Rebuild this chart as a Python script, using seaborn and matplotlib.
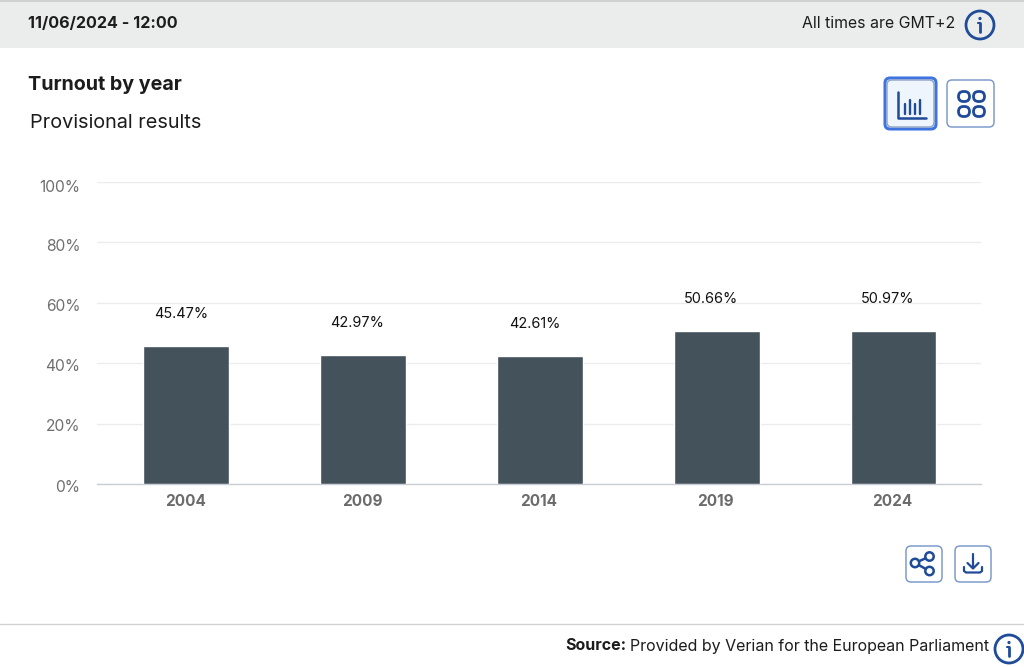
import matplotlib
matplotlib.use("Agg")
import matplotlib.pyplot as plt
from matplotlib.patches import Rectangle, FancyBboxPatch, Circle
from matplotlib.transforms import ScaledTranslation
import pandas as pd
import seaborn as sns

years = ["2004", "2009", "2014", "2019", "2024"]
# bar heights as drawn in the picture, they sit a little under the printed figures
bar_heights = [45.6, 42.8, 42.5, 50.7, 50.7]
turnout_labels = ["45.47%", "42.97%", "42.61%", "50.66%", "50.97%"]
y_ticks = [0, 20, 40, 60, 80, 100]

BLUE = "#1f4b99"
BORDER = "#7f9bcb"
BAR = "#44525c"
TEXT = "#1c1c1c"

sns.set_theme(style="white")
plt.rcParams["font.family"] = ["Inter", "DejaVu Sans"]

fig = plt.figure(figsize=(10.24, 6.67), dpi=100, facecolor="white")

# overlay in pixel coordinates for the page furniture
bg = fig.add_axes([0, 0, 1, 1])
bg.set_xlim(0, 1024)
bg.set_ylim(667, 0)
bg.axis("off")

# chart area, 97-981 px across and 182-484 px down
ax = fig.add_axes([97 / 1024, 1 - 484 / 667, 884 / 1024, 302 / 667])
ax.patch.set_alpha(0)
df = pd.DataFrame({"year": years, "turnout": bar_heights})
sns.barplot(data=df, x="year", y="turnout", color=BAR, saturation=1, width=0.486, ax=ax, zorder=3)

ax.set_ylim(0, 100)
ax.set_xlim(-0.505, 4.495)
ax.set_yticks(y_ticks)
ax.set_yticklabels([f"{t}%" for t in y_ticks], fontsize=11.2, color="#6f6f6f")
ax.set_xlabel("")
ax.set_ylabel("")
ax.tick_params(axis="both", length=0)
ax.tick_params(axis="y", pad=12)
ax.tick_params(axis="x", pad=7)
for lab in ax.get_xticklabels():
    lab.set_fontsize(11)
    lab.set_fontweight("bold")
    lab.set_color("#6b6b6b")
    lab.set_transform(lab.get_transform() + ScaledTranslation(-1 / 100, 0, fig.dpi_scale_trans))
# the tick labels are not quite level with the grid lines, the top one least of all
for lab, nudge in zip(ax.get_yticklabels(), [1.5, 1.5, 1.5, 2.5, 2.5, 4.5]):
    lab.set_transform(lab.get_transform() + ScaledTranslation(0, -nudge / 100, fig.dpi_scale_trans))
ax.grid(axis="y", color="#ececec", linewidth=1, zorder=0)
sns.despine(ax=ax, left=True, top=True, right=True)
ax.spines["bottom"].set_color("#c9ced6")
ax.spines["bottom"].set_linewidth(1)

for i, (h, label) in enumerate(zip(bar_heights, turnout_labels)):
    ax.annotate(label, (i, h), xytext=(-4, 23), textcoords="offset points",
                ha="center", va="center", fontsize=10.4, color="#111111")

# top band
bg.add_patch(Rectangle((0, 0), 1024, 48, color="#ebeded", lw=0))
bg.add_patch(Rectangle((0, 0), 1024, 1.5, color="#cfd1d1", lw=0))
bg.text(28, 24, "11/06/2024 - 12:00", fontsize=11.6, fontweight="bold", color=TEXT, va="center")
bg.text(955, 24, "All times are GMT+2", fontsize=11.4, color=TEXT, va="center", ha="right")

bg.text(28, 85, "Turnout by year", fontsize=14.2, fontweight="bold", color=TEXT, va="center")
bg.text(30, 123, "Provisional results", fontsize=14.3, color=TEXT, va="center")


def info_icon(cx, cy):
    bg.add_patch(Circle((cx, cy), 14, fill=False, ec=BLUE, lw=2))
    bg.add_patch(Circle((cx, cy - 6.5), 1.6, color=BLUE, lw=0))
    bg.plot([cx, cx], [cy - 2, cy + 7], color=BLUE, lw=2, solid_capstyle="round")
    bg.plot([cx - 2.5, cx], [cy - 2, cy - 2], color=BLUE, lw=1.5, solid_capstyle="round")


def button(x0, y0, x1, y1, face="white", edge=BORDER, lw=1.1):
    bg.add_patch(FancyBboxPatch((x0 + 5, y0 + 5), x1 - x0 - 10, y1 - y0 - 10,
                                boxstyle="round,pad=5,rounding_size=5", fc=face, ec=edge, lw=lw))


info_icon(980, 25)
info_icon(1009, 649)

# chart view button (active)
button(885, 78, 936, 129, edge="#3f74e0", lw=2.2)
button(887, 80, 934, 127, face="#eef5fd", edge="#8ea3c4", lw=1)
bg.plot([898, 898, 926], [92, 118, 118], color=BLUE, lw=1.8, solid_capstyle="round", solid_joinstyle="round")
for px, top in zip([905, 910, 915, 920], [104, 100, 104, 100]):
    bg.plot([px, px], [top, 114], color=BLUE, lw=1.7, solid_capstyle="round")

# grid view button
button(947, 80, 994, 127)
for cx in (964, 979):
    for cy in (96.5, 111.5):
        bg.add_patch(FancyBboxPatch((cx - 1.5, cy - 1), 3, 2, boxstyle="round,pad=4,rounding_size=5",
                                    fc="white", ec=BLUE, lw=2))

# share button
button(906, 546, 942, 582)
s = [(915, 563), (929.5, 556.5), (929.5, 571)]
bg.plot([s[1][0], s[0][0], s[2][0]], [s[1][1], s[0][1], s[2][1]], color=BLUE, lw=1.8)
for c in s:
    bg.add_patch(Circle(c, 4.2, fc="white", ec=BLUE, lw=1.8, zorder=4))

# download button
button(955, 546, 991, 582)
bg.plot([973, 973], [554, 568], color=BLUE, lw=1.6, solid_capstyle="round")
bg.plot([967.5, 973, 978.5], [563, 568.5, 563], color=BLUE, lw=1.6, solid_capstyle="round", solid_joinstyle="round")
bg.plot([964, 964, 966, 980, 982, 982], [567, 571, 572.5, 572.5, 571, 567], color=BLUE, lw=1.6,
        solid_capstyle="round", solid_joinstyle="round")

# footer
bg.plot([0, 1024], [623.5, 623.5], color="#d2d2d2", lw=1)
t = bg.text(989, 646, "Provided by Verian for the European Parliament", fontsize=11.5,
            color=TEXT, va="center", ha="right")
fig.canvas.draw()
left = t.get_window_extent().x0
bg.text(left - 4, 646, "Source:", fontsize=11.5, fontweight="bold", color=TEXT, va="center", ha="right")

fig.savefig("out.png", dpi=100, facecolor="white")
